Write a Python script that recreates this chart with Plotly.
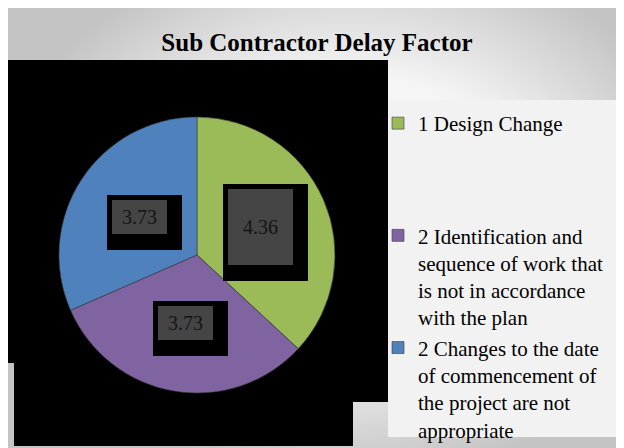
import math, zlib, struct, base64
import plotly.graph_objects as go

# ---------------- data ----------------
labels = [
    "1 Design Change",
    "2 Identification and sequence of work that is not in accordance with the plan",
    "2 Changes to the date of commencement of the project are not appropriate",
]
legend_text = [
    "1 Design Change<br> <br> <br> ",
    "2 Identification and<br>sequence of work that<br>is not in accordance<br>with the plan",
    "2 Changes to the date<br>of commencement of<br>the project are not<br>appropriate",
]
values = [4.36, 3.73, 3.73]
value_text = ["4.36", "3.73", "3.73"]
colors = ["#9BBB59", "#8064A2", "#4F81BD"]
title = "Sub Contractor Delay Factor"

# ---------------- geometry / style ----------------
OFF = 8                      # page body margin
W, H = 624 - OFF, 448 - OFF  # figure size that fits the window
CX, CY, R = 197, 255, 138    # pie center / radius in reference px
SERIF = "Liberation Serif"

def px_x(x):
    return max(0.0, (x - OFF) / W)

def px_y(y):
    return min(1.0, 1 - (y - OFF) / H)

# ---------------- gradient background image ----------------
def make_png(w, h, fn):
    rows = []
    for j in range(h):
        row = bytearray([0])
        for i in range(w):
            v = fn(i, j)
            row += bytes([v, v, v])
        rows.append(bytes(row))
    raw = b"".join(rows)
    def chunk(t, d):
        c = struct.pack(">I", len(d)) + t + d
        return c + struct.pack(">I", zlib.crc32(t + d) & 0xffffffff)
    png = b"\x89PNG\r\n\x1a\n"
    png += chunk(b"IHDR", struct.pack(">IIBBBBB", w, h, 8, 2, 0, 0, 0))
    png += chunk(b"IDAT", zlib.compress(raw, 9))
    png += chunk(b"IEND", b"")
    return "data:image/png;base64," + base64.b64encode(png).decode()

SC = 4
def grad(i, j):
    X, Y = i * SC + OFF, j * SC + OFF
    dx = (X - 350) / 330.0
    dy = (Y - 210) / 250.0
    t = math.sqrt(dx * dx + dy * dy)
    v = 245 if t < 0.55 else 245 - (t - 0.55) / 0.55 * 50
    return int(max(196, min(245, v)))

bg_src = make_png(W // SC + 1, H // SC + 1, grad)

fig = go.Figure()

fig.add_trace(go.Pie(
    labels=legend_text,
    values=values,
    marker=dict(colors=colors, line=dict(color="#3a3a3a", width=0.6)),
    sort=False,
    direction="clockwise",
    rotation=0,
    textinfo="none",
    hoverinfo="label+value",
    domain=dict(x=[px_x(CX - R), px_x(CX + R)], y=[px_y(CY + R), px_y(CY - R)]),
    showlegend=True,
))

# ---------------- data labels (positions from slice angles) ----------------
total = sum(values)
annotations = []
cum = 0.0
for v, txt in zip(values, value_text):
    mid = (cum + v / 2) / total * 2 * math.pi
    cum += v
    lx = CX + 0.5 * R * math.sin(mid)
    ly = CY - 0.5 * R * math.cos(mid)
    big = v == max(values)
    bw, bh = (65, 76) if big else (55, 34)
    # black frame/shadow
    annotations.append(dict(
        x=px_x(lx), y=px_y(ly), xref="paper", yref="paper", showarrow=False,
        xanchor="center", yanchor="middle",
        text="", width=bw + 20, height=bh + 21, bgcolor="#000000",
        borderpad=0, borderwidth=0, xshift=5, yshift=-5.5,
    ))
    annotations.append(dict(
        x=px_x(lx), y=px_y(ly), xref="paper", yref="paper", showarrow=False,
        xanchor="center", yanchor="middle",
        text=txt, width=bw, height=bh, bgcolor="#454545",
        borderpad=0, borderwidth=0,
        font=dict(family=SERIF, size=20, color="#141414"),
    ))

# ---------------- shapes: black plot area + legend box ----------------
shapes = [
    dict(type="rect", xref="paper", yref="paper", layer="below",
         x0=px_x(7), x1=px_x(388), y0=px_y(363), y1=px_y(60),
         fillcolor="#000000", line=dict(width=0)),
    dict(type="rect", xref="paper", yref="paper", layer="below",
         x0=px_x(14), x1=px_x(388), y0=px_y(402), y1=px_y(362),
         fillcolor="#000000", line=dict(width=0)),
    dict(type="rect", xref="paper", yref="paper", layer="below",
         x0=px_x(14), x1=px_x(353), y0=px_y(446), y1=px_y(401),
         fillcolor="#000000", line=dict(width=0)),
    dict(type="rect", xref="paper", yref="paper", layer="below",
         x0=px_x(388), x1=px_x(619), y0=px_y(437), y1=px_y(100),
         fillcolor="#F2F2F2", line=dict(width=0)),
]

fig.update_layout(
    width=W, height=H,
    margin=dict(l=0, r=0, t=0, b=0, autoexpand=False),
    font=dict(family=SERIF),
    paper_bgcolor="#FFFFFF",
    plot_bgcolor="rgba(0,0,0,0)",
    title=dict(text="<b>" + title + "</b>", x=px_x(317), xanchor="center",
               y=px_y(42), yanchor="middle",
               font=dict(family=SERIF, size=25, color="#000000")),
    images=[dict(source=bg_src, xref="paper", yref="paper",
                 x=0, y=1, sizex=1, sizey=1,
                 xanchor="left", yanchor="top", sizing="stretch", layer="below")],
    shapes=shapes,
    annotations=annotations,
    legend=dict(x=px_x(378), xanchor="left", y=px_y(103), yanchor="top",
                bgcolor="rgba(0,0,0,0)", valign="top",
                font=dict(family=SERIF, size=21, color="#000000")),
)

fig.write_html("out.html")
